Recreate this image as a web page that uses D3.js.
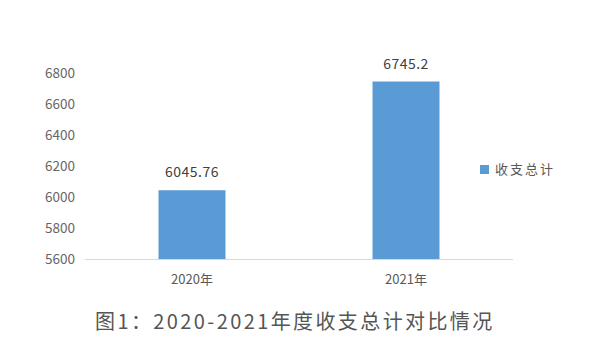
<!DOCTYPE html>
<html>
<head>
<meta charset="utf-8">
<script src="https://cdn.jsdelivr.net/npm/d3@7"></script>
<style>
  body { margin: 0; background: #fff; }
  svg { display: block; }
</style>
</head>
<body>
<svg id="chart" width="600" height="363"></svg>
<script>
const categories = ['2020年', '2021年'];
const values = [6045.76, 6745.2];
const valueLabels = ['6045.76', '6745.2'];
const yTicks = [5600, 5800, 6000, 6200, 6400, 6600, 6800];
const seriesName = '收支总计';
const title = '图1：2020-2021年度收支总计对比情况';

const svg = d3.select('#chart');
const margin = { left: 85, right: 87, top: 73, bottom: 103.5 };
const width = 600, height = 363;
const font = '"Noto Sans CJK SC", "Noto Sans", sans-serif';

const x = d3.scaleBand()
  .domain(categories)
  .range([margin.left, width - margin.right])
  .paddingInner(0.687)
  .paddingOuter(0.3435);

const y = d3.scaleLinear()
  .domain([5600, 6800])
  .range([height - margin.bottom, margin.top]);

const g = svg.append('g').attr('font-family', font);

// y tick labels (no axis line)
g.append('g')
  .selectAll('text')
  .data(yTicks)
  .join('text')
  .attr('x', 75)
  .attr('y', d => y(d))
  .attr('dy', '0.35em')
  .attr('text-anchor', 'end')
  .attr('font-size', 13.5)
  .attr('fill', '#666')
  .text(d => d);

// bars
g.append('g')
  .selectAll('rect')
  .data(values)
  .join('rect')
  .attr('x', (d, i) => x(categories[i]))
  .attr('y', d => y(d))
  .attr('width', x.bandwidth())
  .attr('height', d => y(5600) - y(d))
  .attr('fill', '#5b9bd5');

// baseline
g.append('line')
  .attr('x1', margin.left)
  .attr('x2', width - margin.right)
  .attr('y1', y(5600))
  .attr('y2', y(5600))
  .attr('stroke', '#d9d9d9')
  .attr('stroke-width', 1.2);

// value labels
g.append('g')
  .selectAll('text')
  .data(values)
  .join('text')
  .attr('x', (d, i) => x(categories[i]) + x.bandwidth() / 2)
  .attr('y', d => y(d) - 13)
  .attr('text-anchor', 'middle')
  .attr('font-size', 14)
  .attr('letter-spacing', 0.5)
  .attr('fill', '#404040')
  .text((d, i) => valueLabels[i]);

// category labels
g.append('g')
  .selectAll('text')
  .data(categories)
  .join('text')
  .attr('x', d => x(d) + x.bandwidth() / 2)
  .attr('y', y(5600) + 19.5)
  .attr('dy', '0.35em')
  .attr('text-anchor', 'middle')
  .attr('font-size', 13)
  .attr('fill', '#595959')
  .text(d => d);

// legend
const legend = g.append('g').attr('transform', 'translate(480,165)');
legend.append('rect')
  .attr('width', 9)
  .attr('height', 9)
  .attr('fill', '#5b9bd5');
legend.append('text')
  .attr('x', 15)
  .attr('y', 4.5)
  .attr('dy', '0.35em')
  .attr('font-size', 13)
  .attr('letter-spacing', 2)
  .attr('fill', '#595959')
  .text(seriesName);

// caption
svg.append('text')
  .attr('x', 95)
  .attr('y', 322)
  .attr('dy', '0.35em')
  .attr('font-family', font)
  .attr('font-size', 20)
  .attr('letter-spacing', 2.4)
  .attr('fill', '#555')
  .text(title);
</script>
</body>
</html>
